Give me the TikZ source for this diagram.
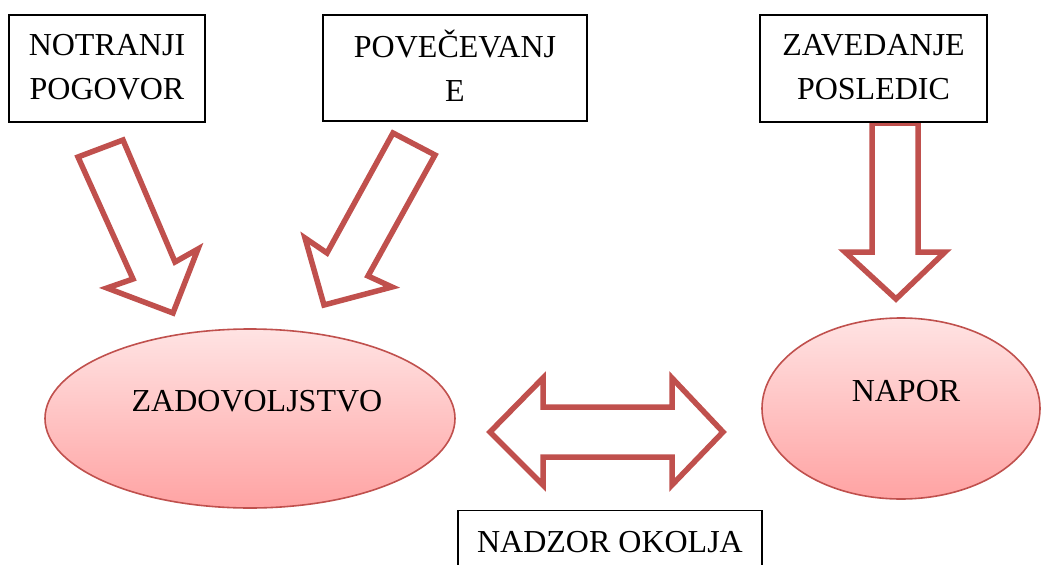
\documentclass[tikz,border=0pt]{standalone}
\usepackage{fontspec}
\setmainfont{Liberation Serif}
\usetikzlibrary{shapes.geometric}
\definecolor{arrowred}{HTML}{C0504D}
\definecolor{ovaltop}{HTML}{FFE3E3}
\definecolor{ovalbot}{HTML}{FFA3A3}
\begin{document}
\begin{tikzpicture}[x=1pt,y=-1pt,
  caption/.style={font=\fontsize{32}{44}\selectfont, align=center, inner sep=0pt},
  textbox/.style={caption, draw=black, line width=1.1pt, fill=white},
  oval/.style={ellipse, draw=arrowred, line width=1.6pt,
    top color=ovaltop, bottom color=ovalbot, inner sep=0pt},
  blockarrow/.style={draw=arrowred, line width=5.5pt, fill=white, line join=miter}]
\useasboundingbox (0,0) rectangle (1042,565);
\clip (0,0) rectangle (1042,565);

% block arrows
\draw[blockarrow] (78,157) -- (123,140) -- (175,262) -- (198,249) -- (173,313)
  -- (107,288) -- (133,279) -- cycle;
\draw[blockarrow] (393,133) -- (435,155) -- (368,276) -- (392,287) -- (324,305)
  -- (305,238) -- (327,253) -- cycle;
\draw[blockarrow] (872,123) -- (918,123) -- (918,252) -- (945,252) -- (896,299)
  -- (845,252) -- (872,252) -- cycle;
\draw[blockarrow] (490,432) -- (543,378) -- (543,407) -- (672,407) -- (672,378)
  -- (723,432) -- (672,485) -- (672,457) -- (543,457) -- (543,485) -- cycle;

% text boxes
\node[textbox, minimum width=196, minimum height=107] (notranji) at (107,68.5)
  {NOTRANJI\\POGOVOR\rule[-3pt]{0pt}{3pt}};
\node[textbox, minimum width=264, minimum height=106] (povecevanje) at (455,68)
  {POVEČEVANJ\\E\rule[-5pt]{0pt}{5pt}};
\node[textbox, minimum width=227, minimum height=107] (zavedanje) at (873.5,68.5)
  {ZAVEDANJE\\POSLEDIC\rule[-3pt]{0pt}{3pt}};
\node[textbox, minimum width=304, minimum height=110, anchor=north] (nadzor)
  at (610,510) {};
\node[caption, anchor=base] (nadzortxt) at (610,552) {NADZOR OKOLJA};

% ovals
\node[oval, minimum width=410, minimum height=179] (zadovoljstvo) at (250,418.5) {};
\node[caption, anchor=base] (zadovoljstvotxt) at (257,411) {ZADOVOLJSTVO};
\node[oval, minimum width=278, minimum height=181] (napor) at (901,408.5) {};
\node[caption, anchor=base] (naportxt) at (906,401) {NAPOR};
\end{tikzpicture}
\end{document}
